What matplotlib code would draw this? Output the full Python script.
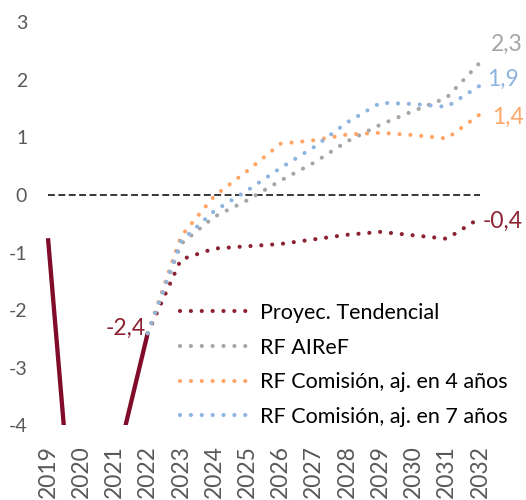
import matplotlib.pyplot as plt

plt.rcParams['font.family'] = ['Lato', 'DejaVu Sans']

years = list(range(2019, 2033))

# observed path up to 2022
hist_years = [2019, 2020, 2021, 2022]
hist_vals = [-0.75, -7.6, -4.8, -2.4]

# projections 2022-2032
proj_years = list(range(2022, 2033))
tendencial = [-2.4, -1.12, -0.93, -0.89, -0.85, -0.77, -0.69, -0.64, -0.70, -0.76, -0.4]
rf_airef = [-2.4, -0.85, -0.38, -0.09, 0.25, 0.56, 0.93, 1.22, 1.46, 1.69, 2.3]
rf_com_4 = [-2.4, -0.72, -0.02, 0.42, 0.89, 0.95, 1.05, 1.08, 1.04, 0.98, 1.4]
rf_com_7 = [-2.4, -0.80, -0.28, 0.08, 0.47, 0.83, 1.26, 1.60, 1.58, 1.53, 1.9]

names = ['Proyec. Tendencial', 'RF AIReF',
         'RF Comisión, aj. en 4 años', 'RF Comisión, aj. en 7 años']
colors = ['#8C2232', '#A6A6A6', '#FFA566', '#8EB4E0']
end_labels = ['-0,4', '2,3', '1,4', '1,9']
label_offsets = [(3, -3), (11, 18), (12, -3), (7, 6)]

W, H = 526, 500
fig = plt.figure(figsize=(W / 100, H / 100), dpi=100)
x0, x1 = 31.4, 496.6
y0, y1 = 22.2, 425.4
ax = fig.add_axes([x0 / W, 1 - y1 / H, (x1 - x0) / W, (y1 - y0) / H])

ax.plot(years, [0] * len(years), color='black', lw=1.1,
        linestyle=(0, (4.5, 2.3)), zorder=1)

ax.plot(hist_years, hist_vals, color='#800C2A', lw=3.1,
        solid_capstyle='butt', zorder=3)

dotted = (0, (0.01, 2.6))
series = [tendencial, rf_airef, rf_com_4, rf_com_7]
for vals, name, c, lab, off in zip(series, names, colors, end_labels, label_offsets):
    ax.plot(proj_years, vals, color=c, lw=3.0, linestyle=dotted,
            dash_capstyle='round', label=name, zorder=4)
    ax.annotate(lab, (proj_years[-1], vals[-1]), xytext=off,
                textcoords='offset pixels', ha='left', va='center',
                color=c, fontsize=16.5, annotation_clip=False)

ax.annotate('-2,4', (hist_years[-1], hist_vals[-1]), xytext=(-2, 5),
            textcoords='offset pixels', ha='right', va='center',
            color='#8C2232', fontsize=16.5)

ax.set_xlim(2018.5, 2032.5)
ax.set_ylim(-4, 3)
ax.set_xticks(years)
ax.set_xticklabels([str(y) for y in years], rotation=90, va='top')
ax.set_yticks(range(-4, 4))
ax.set_yticklabels([str(v) for v in range(-4, 4)])
ax.tick_params(axis='both', length=0, labelsize=14, labelcolor='#595959')
ax.tick_params(axis='x', pad=14, labelsize=16.5)
ax.tick_params(axis='y', pad=3)
for s in ax.spines.values():
    s.set_visible(False)

ax.legend(loc='upper left', bbox_to_anchor=(180 / W, 1 - 303 / H),
          bbox_transform=fig.transFigure, frameon=False, fontsize=15.5,
          borderpad=0, borderaxespad=0, handlelength=3.15,
          handletextpad=0.56, labelspacing=0.68)

fig.savefig('out.png', dpi=100)
